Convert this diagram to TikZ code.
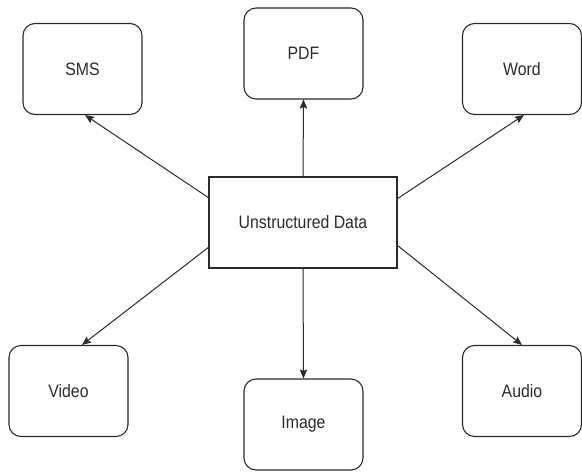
\documentclass[tikz,border=0pt]{standalone}
\usepackage{fontspec}
\setmainfont{Liberation Sans}
\usetikzlibrary{arrows.meta,calc}
\definecolor{ink}{HTML}{2B2B2B}
\newcommand\narrowtxt[1]{\scalebox{0.88}[1]{#1}}
\begin{document}
\begin{tikzpicture}[x=1pt,y=-1pt,
  box/.style={draw=ink, line width=1.1pt, rounded corners=12pt, minimum width=119pt, minimum height=91pt, inner sep=0pt, text=ink, font=\fontsize{18}{21}\selectfont},
  hub/.style={draw=ink, line width=1.1pt, minimum width=188pt, minimum height=91pt, inner sep=0pt, text=ink, font=\fontsize{18}{21}\selectfont},
  link/.style={draw=ink, line width=1pt, -{Stealth[length=9pt,width=7.5pt,inset=1.5pt]}}]
\useasboundingbox[fill=white] (0,0) rectangle (582,472);
\node[hub] (c) at (303,222.5) {\narrowtxt{Unstructured Data}};
\node[box] (sms) at (82.5,69) {\narrowtxt{SMS}};
\node[box] (pdf) at (303.5,53.5) {\narrowtxt{PDF}};
\node[box] (word) at (522,69) {\narrowtxt{Word}};
\node[box] (video) at (68.5,391) {\narrowtxt{Video}};
\node[box] (image) at (303.5,424.5) {\narrowtxt{Image}};
\node[box] (audio) at (522,391) {\narrowtxt{Audio}};
\coordinate (sA) at ($(c.north west)!0.23!(c.south west)$);
\coordinate (vA) at ($(c.north west)!0.77!(c.south west)$);
\coordinate (wA) at ($(c.north east)!0.24!(c.south east)$);
\coordinate (aA) at ($(c.north east)!0.75!(c.south east)$);
\coordinate (sB) at ($(sms.south)+(2.5,0)$);
\coordinate (wB) at ($(word.south)+(2,0)$);
\coordinate (vB) at ($(video.north)+(13.5,0)$);
\coordinate (aB) at ($(audio.north)+(0,0)$);
\draw[link] (sA) -- (sB);
\draw[link] (wA) -- (wB);
\draw[link] (vA) -- (vB);
\draw[link] (aA) -- (aB);
\draw[link] (c.north) -- (pdf.south);
\draw[link] (c.south) -- (image.north);
\end{tikzpicture}
\end{document}
